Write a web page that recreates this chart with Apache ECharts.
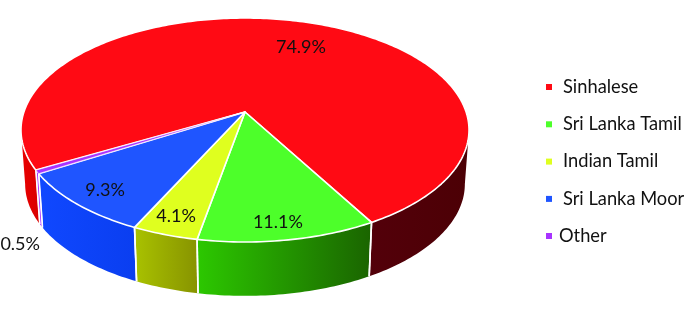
<!DOCTYPE html>
<html><head><meta charset="utf-8">
<style>html,body{margin:0;padding:0;background:#fff}#c{width:685px;height:320px}</style>
<script src="https://cdn.jsdelivr.net/npm/echarts@6/dist/echarts.min.js"></script>
</head><body><div id="c"></div>
<script>
const categories = ['Sinhalese', 'Sri Lanka Tamil', 'Indian Tamil', 'Sri Lanka Moor', 'Other'];
const shares = [74.9, 11.1, 4.1, 9.3, 0.5];

const topColors = ['#ff0a14', '#4dff2a', '#dfff1f', '#1f55ff', '#a833ff'];
const wallShades = [
  [['#ea0000', '#d80000'], ['#53000a', '#4c0005']],
  [['#2cc800', '#1a6400']],
  [['#a9c200', '#879300']],
  [['#1048ff', '#0a3ef0']],
  [['#a833ff', '#a833ff']]
];
const labelRadius = [0.716, 0.877, 0.87, 0.856, 1.324];
const labelTurn = [7.45, 1.1, 0.2, -0.5, -19.7];

// view of the disc: a perspective projection of a circle, apex off the ellipse centre
const view = { cx: 245, top: 112, a: 109.1, b: 221.1, k: 0.1607, floor: 166, a2: 109, b2: 217,
  startAngle: 240.6, limbTurn: 9.2 };
const rad = Math.PI / 180;
function project(deg, r, lower) {
  const u = r * Math.sin(deg * rad), v = -r * Math.cos(deg * rad), w = 1 - view.k * v;
  return lower
    ? [view.cx + view.b2 * u / w, view.floor + view.a2 * v / w]
    : [view.cx + view.b * u / w, view.top + view.a * v / w];
}
const total = shares.reduce((s, v) => s + v, 0);
const edges = [];
let cursor = view.startAngle;
shares.forEach((v, i) => { const span = v / total * 360; edges[i] = [cursor, cursor + span]; cursor += span; });

function arc(a, b, r, lower) {
  const pts = [], n = Math.max(2, Math.ceil(Math.abs(b - a)));
  for (let i = 0; i <= n; i++) pts.push(project(a + (b - a) * i / n, r, lower));
  return pts;
}
// parts of a slice's rim that face the viewer (angles run on past 360 for later slices)
function frontPieces(a, b) {
  const lo = 90 + view.limbTurn, hi = 270 - view.limbTurn, out = [];
  [-360, 0, 360, 720].forEach(shift => {
    const s = Math.max(a, lo + shift), e = Math.min(b, hi + shift);
    if (e > s) out.push([s, e]);
  });
  return out;
}
function seam(deg, w) {
  return { type: 'polyline', shape: { points: [project(deg, 1, false), project(deg, 1, true)] },
    style: { stroke: '#fff', lineWidth: w, fill: null }, z2: 2 };
}
function sliceGroup(i) {
  const a = edges[i][0], b = edges[i][1];
  const thin = shares[i] < 1;
  const children = [];
  frontPieces(a, b).forEach(([s, e], p) => {
    const shade = wallShades[i][p] || wallShades[i][0];
    children.push({ type: 'polygon',
      shape: { points: arc(s, e, 1, false).concat(arc(e, s, 1, true)) },
      style: { fill: new echarts.graphic.LinearGradient(0, 0, 1, 0, [{ offset: 0, color: shade[0] }, { offset: 1, color: shade[1] }]) }, z2: 1 });
    if (Math.abs(s - a) < 1e-6) children.push(seam(s, thin ? 1 : 1.6));
    if (Math.abs(e - b) < 1e-6) children.push(seam(e, thin ? 1 : 1.6));
  });
  children.push({ type: 'polygon',
    shape: { points: [project(0, 0, false)].concat(arc(a, b, 1, false)) },
    style: { fill: topColors[i], stroke: '#fff', lineWidth: thin ? 0.7 : 1.6, lineJoin: 'round' }, z2: 3 });
  const mid = (a + b) / 2 + labelTurn[i];
  const at = project(mid, labelRadius[i], false);
  children.push({ type: 'text', z2: 5, silent: true,
    style: { text: shares[i].toFixed(1) + '%', x: at[0], y: at[1], align: 'center', verticalAlign: 'middle',
      fontFamily: 'Lato', fontSize: 18, fill: '#111' } });
  return { type: 'group', children };
}

const chart = echarts.init(document.getElementById('c'), null, { renderer: 'canvas' });
const legendText = { fontFamily: 'Lato', fontSize: 18.3, color: '#111', lineHeight: 20 };
chart.setOption({
  animation: false,
  legend: [
    { data: categories.slice(0, 4), orient: 'vertical', left: 541, top: 72, itemWidth: 6, itemHeight: 6,
      itemGap: 17.3, icon: 'rect', textStyle: Object.assign({ padding: [0, 0, 0, 6] }, legendText), itemStyle: { borderWidth: 0 } },
    { data: categories.slice(4), orient: 'vertical', left: 541, top: 221, itemWidth: 6, itemHeight: 6,
      icon: 'rect', textStyle: Object.assign({ padding: [0, 0, 0, 2] }, legendText), itemStyle: { borderWidth: 0 } }
  ],
  series: categories.map((name, i) => ({
    type: 'custom', name, coordinateSystem: 'none', silent: true,
    itemStyle: { color: topColors[i] },
    data: [[shares[i]]],
    renderItem: () => sliceGroup(i)
  }))
});
</script></body></html>
